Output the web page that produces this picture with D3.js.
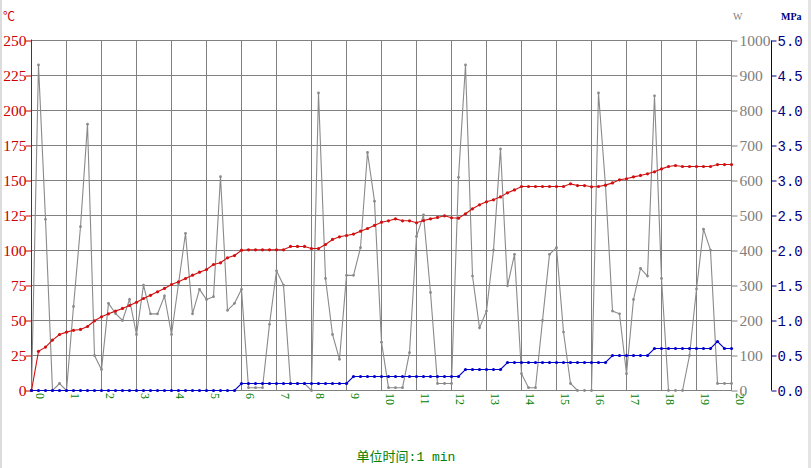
<!DOCTYPE html>
<html><head><meta charset="utf-8">
<script src="https://cdn.jsdelivr.net/npm/d3@7"></script>
<style>body{margin:0;background:#fff}svg{display:block}</style>
</head><body><svg id="c" width="811" height="468"></svg>
<script>
// sample times (minutes)
const times = [
  0,0.2,0.4,0.6,0.8, 1,1.2,1.4,1.6,1.8, 2,2.2,2.4,2.6,2.8, 3,3.2,3.4,3.6,3.8,
  4,4.2,4.4,4.6,4.8, 5,5.2,5.4,5.6,5.8, 6,6.2,6.4,6.6,6.8, 7,7.2,7.4,7.6,7.8,
  8,8.2,8.4,8.6,8.8, 9,9.2,9.4,9.6,9.8, 10,10.2,10.4,10.6,10.8, 11,11.2,11.4,11.6,11.8,
  12,12.2,12.4,12.6,12.8, 13,13.2,13.4,13.6,13.8, 14,14.2,14.4,14.6,14.8, 15,15.2,15.4,15.6,15.8,
  16,16.2,16.4,16.6,16.8, 17,17.2,17.4,17.6,17.8, 18,18.2,18.4,18.6,18.8, 19,19.2,19.4,19.6,19.8, 20];
// temperature (°C)
const temperature = [
  0,28,31,36,40, 41.7,43,43.6,45.7,49.8, 52.6,54.8,56.7,58.6,60.7, 63,65.7,68,70.5,72.9,
  75.7,77.6,80,82.4,84.5, 86.4,90,91.2,94.8,96.4, 100.2,100.5,100.5,100.5,100.5, 100.5,100.5,102.9,102.9,102.9,
  101.4,101.4,104.3,107.9,109.8, 110.7,111.7,113.8,115.7,117.9, 120.2,121.2,122.6,121.2,121.2, 119.8,121.4,122.6,123.6,124.8,
  123.4,123.1,126.2,129.8,132.6, 134.8,136.2,138.3,141.2,143.3, 145.7,145.7,145.7,145.7,145.7, 145.7,145.7,147.6,146.4,146.4,
  145.5,145.7,146.7,148.3,150.5, 151.2,152.6,153.6,154.8,156.2, 158.3,160,160.7,160,160, 160,160,160,161.4,161.4, 161.4];
// power (W)
const power = [
  0,930,489,0,20, 0,240,468,761,100, 60,249,220,200,260, 160,301,219,219,270,
  160,305,449,219,289, 260,268,611,229,249, 289,8,8,8,189, 342,301,20,20,20,
  0,850,320,160,89, 329,329,408,680,541, 138,8,8,8,108, 440,502,280,20,20,
  20,609,930,327,179, 227,401,690,299,389, 48,8,8,200,389, 408,167,20,0,0,
  0,850,585,227,219, 48,260,349,327,842, 320,0,0,0,100, 290,461,401,20,20, 20];
// pressure (MPa)
const pressure = [
  0,0,0,0,0, 0,0,0,0,0, 0,0,0,0,0, 0,0,0,0,0,
  0,0,0,0,0, 0,0,0,0,0, 0.1,0.1,0.1,0.1,0.1, 0.1,0.1,0.1,0.1,0.1,
  0.1,0.1,0.1,0.1,0.1, 0.1,0.2,0.2,0.2,0.2, 0.2,0.2,0.2,0.2,0.2, 0.2,0.2,0.2,0.2,0.2,
  0.2,0.2,0.3,0.3,0.3, 0.3,0.3,0.3,0.4,0.4, 0.4,0.4,0.4,0.4,0.4, 0.4,0.4,0.4,0.4,0.4,
  0.4,0.4,0.4,0.5,0.5, 0.5,0.5,0.5,0.5,0.6, 0.6,0.6,0.6,0.6,0.6, 0.6,0.6,0.6,0.7,0.6, 0.6];

const xTicks = [0,1,2,3,4,5,6,7,8,9,10,11,12,13,14,15,16,17,18,19,20];
const tempTicks = [0,25,50,75,100,125,150,175,200,225,250];
const powerTicks = [0,100,200,300,400,500,600,700,800,900,1000];
const pressureTicks = [0,0.5,1,1.5,2,2.5,3,3.5,4,4.5,5];
const tempUnit = "℃", powerUnit = "W", pressureUnit = "MPa";
const xTitle = "单位时间:1 min";

const svg = d3.select("#c");
const L = 31.5, R = 731.5, T = 40.5, B = 390.5;
const x = d3.scaleLinear().domain([0,20]).range([L,R]);
const yT = d3.scaleLinear().domain([0,250]).range([B,T]);
const yW = d3.scaleLinear().domain([0,1000]).range([B,T]);
const yP = d3.scaleLinear().domain([0,5]).range([B,T]);

const cRed = "#cc0000", cGrid = "#808080", cBlue = "#0000cc", cNavy = "#000080", cGreen = "#008000";
const numFont = "'Liberation Serif', serif";

// frame edges
svg.append("rect").attr("x",0).attr("y",0).attr("width",2).attr("height",468).attr("fill","#dcdcdc");
svg.append("rect").attr("x",808).attr("y",0).attr("width",3).attr("height",468).attr("fill","#e4e4e4");

// grid
const g = svg.append("g");
g.selectAll(".vg").data(xTicks).join("line")
  .attr("x1",d=>x(d)).attr("x2",d=>x(d)).attr("y1",T).attr("y2",B)
  .attr("stroke",cGrid).attr("stroke-width",1);
g.selectAll(".hg").data(tempTicks).join("line")
  .attr("x1",L).attr("x2",R).attr("y1",d=>yT(d)).attr("y2",d=>yT(d))
  .attr("stroke",cGrid).attr("stroke-width",1);

// left axis (temperature)
const axL = svg.append("g").attr("transform",`translate(${L},0)`)
  .call(d3.axisLeft(yT).tickValues(tempTicks).tickSize(6).tickPadding(-1).tickFormat(d3.format("d")));
axL.select(".domain").attr("stroke",cRed).attr("d",`M0,${T-1}V${B+0.5}`);
axL.selectAll(".tick line").attr("stroke",cRed);
axL.selectAll(".tick text").attr("fill",cRed).attr("font-family",numFont).attr("font-size",15.5).attr("dy","0.35em");

// right power axis
const axW = svg.append("g").attr("transform",`translate(${R},0)`)
  .call(d3.axisRight(yW).tickValues(powerTicks).tickSize(6).tickPadding(2).tickFormat(d3.format("d")));
axW.select(".domain").attr("stroke",cGrid).attr("d",`M0,${T}V${B}`);
axW.selectAll(".tick line").attr("stroke",cGrid);
axW.selectAll(".tick text").attr("fill","#808080").attr("font-family",numFont).attr("font-size",15.5).attr("dy","0.35em");

// right pressure axis
const axP = svg.append("g").attr("transform",`translate(771.5,0)`)
  .call(d3.axisRight(yP).tickValues(pressureTicks).tickSize(5).tickPadding(1).tickFormat(d3.format(".1f")));
axP.select(".domain").attr("stroke",cNavy).attr("d",`M0,${T}V${B}`);
axP.selectAll(".tick line").attr("stroke",cNavy);
axP.selectAll(".tick text").attr("fill",cNavy).attr("font-family","'Liberation Mono', monospace").attr("font-size",14).attr("dy","0.35em");

// x axis labels (rotated)
const axX = svg.append("g").attr("transform",`translate(0,${B})`)
  .call(d3.axisBottom(x).tickValues(xTicks).tickSize(0).tickFormat(d3.format("d")));
axX.select(".domain").remove();
axX.selectAll(".tick text").attr("fill",cGreen).attr("font-family",numFont).attr("font-size",12)
  .attr("text-anchor","start").attr("x",0).attr("y",0).attr("dy","0")
  .attr("transform","translate(4,2.5) rotate(90)");

// unit labels
svg.append("text").attr("x",3).attr("y",21).attr("fill",cRed).attr("font-size",12)
  .attr("font-family","'Noto Sans CJK SC', sans-serif").text(tempUnit);
svg.append("text").attr("x",733).attr("y",20).attr("fill","#808080").attr("font-size",10)
  .attr("font-family","'Liberation Serif', serif").text(powerUnit);
svg.append("text").attr("x",781).attr("y",20).attr("fill",cNavy).attr("font-size",10).attr("font-weight","bold")
  .attr("font-family","'Liberation Serif', serif").text(pressureUnit);
svg.append("text").attr("x",406).attr("y",461).attr("fill",cGreen).attr("font-size",13).attr("text-anchor","middle")
  .attr("font-family","'Liberation Mono','Noto Sans CJK SC', monospace").text(xTitle);

// series
function series(vals, yScale, color, r){
  const data = times.map((t,i)=>[t, vals[i]]);
  const line = d3.line().x(d=>x(d[0])).y(d=>yScale(d[1]));
  svg.append("path").datum(data).attr("d",line).attr("fill","none").attr("stroke",color).attr("stroke-width",1.1);
  svg.append("g").selectAll("circle").data(data).join("circle")
    .attr("cx",d=>x(d[0])).attr("cy",d=>yScale(d[1])).attr("r",r).attr("fill",color);
}
series(power, yW, "#8a8a8a", 1.4);
series(temperature, yT, "#d01010", 1.6);
series(pressure, yP, cBlue, 1.6);
</script></body></html>
